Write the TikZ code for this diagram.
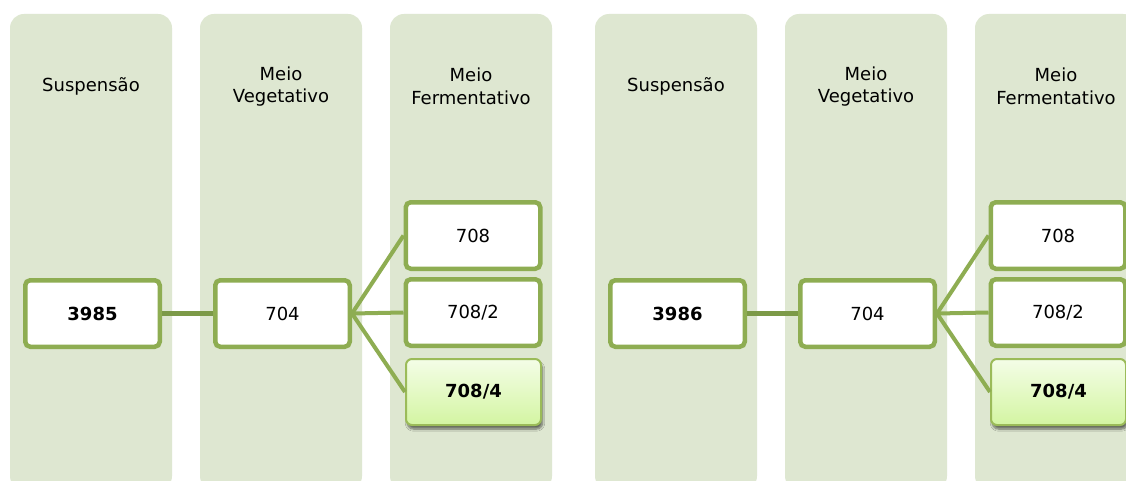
\documentclass[tikz,border=0pt]{standalone}
\usepackage{fontspec}
\setmainfont{DejaVu Sans}
\usetikzlibrary{shadows.blur}
\definecolor{colfill}{HTML}{DEE7D1}
\definecolor{boxgreen}{HTML}{8EAD52}
\definecolor{linkdark}{HTML}{7C9A48}
\definecolor{hiTop}{HTML}{F4FDE7}
\definecolor{hiBot}{HTML}{D3F5A2}
\definecolor{hiEdge}{HTML}{9BBB59}
\tikzset{
  column/.style={fill=colfill, draw=none, rounded corners=14pt},
  header/.style={align=center, font=\fontsize{18}{22.5}\selectfont, inner sep=0pt},
  stagebox/.style={rectangle, rounded corners=5pt, draw=boxgreen, line width=4.5pt,
    fill=white, minimum width=134.5pt, minimum height=66.5pt, inner sep=0pt,
    font=\fontsize{18}{21}\selectfont},
  pickbox/.style={rectangle, rounded corners=6pt, draw=hiEdge, line width=2pt,
    top color=hiTop, bottom color=hiBot, minimum width=135pt, minimum height=66pt,
    inner sep=0pt, font=\fontsize{18}{21}\selectfont\bfseries,
    blur shadow={shadow xshift=1.5pt, shadow yshift=-4pt, shadow blur steps=8, shadow opacity=55}},
  trunk/.style={draw=linkdark, line width=4.5pt},
  branch/.style={draw=boxgreen, line width=4pt}
}
\begin{document}
\begin{tikzpicture}[x=1pt, y=-1pt]
\useasboundingbox (0,0) rectangle (1126,481);
\clip (0,0) rectangle (1126,481);
\fill[white] (0,0) rectangle (1126,481);

% background lanes
\foreach \xa/\xb in {10/172, 200/362, 390/552, 595/757, 785/947, 975/1137}
  \path[column] (\xa,14) rectangle (\xb,490);

% lane headings
\node[header] (hA1) at (91,86.5)   {Suspensão};
\node[header] (hA2) at (281,86.5)  {Meio\\Vegetativo};
\node[header] (hA3) at (471,86.5)  {Meio\\Fermentativo};
\node[header] (hB1) at (676,86.5)  {Suspensão};
\node[header] (hB2) at (866,86.5)  {Meio\\Vegetativo};
\node[header] (hB3) at (1056,86.5) {Meio\\Fermentativo};

% first strain
\node[stagebox, font=\fontsize{18}{21}\selectfont\bfseries] (sA) at (92.5,313.5) {3985};
\node[stagebox] (vA) at (282.5,313.5) {704};
\node[stagebox] (fA1) at (473,235.5) {708};
\node[stagebox] (fA2) at (473,312.5) {708/2};
\node[pickbox]  (fA3) at (473.5,392) {708/4};
\draw[trunk] (sA.east) -- (vA.west);
\draw[branch] (vA.east) -- (fA1.west);
\draw[branch] (vA.east) -- (fA2.west);
\draw[branch] (vA.east) -- (fA3.west);

% second strain
\node[stagebox, font=\fontsize{18}{21}\selectfont\bfseries] (sB) at (677.5,313.5) {3986};
\node[stagebox] (vB) at (867.5,313.5) {704};
\node[stagebox] (fB1) at (1058,235.5) {708};
\node[stagebox] (fB2) at (1058,312.5) {708/2};
\node[pickbox]  (fB3) at (1058.5,392) {708/4};
\draw[trunk] (sB.east) -- (vB.west);
\draw[branch] (vB.east) -- (fB1.west);
\draw[branch] (vB.east) -- (fB2.west);
\draw[branch] (vB.east) -- (fB3.west);
\end{tikzpicture}
\end{document}
